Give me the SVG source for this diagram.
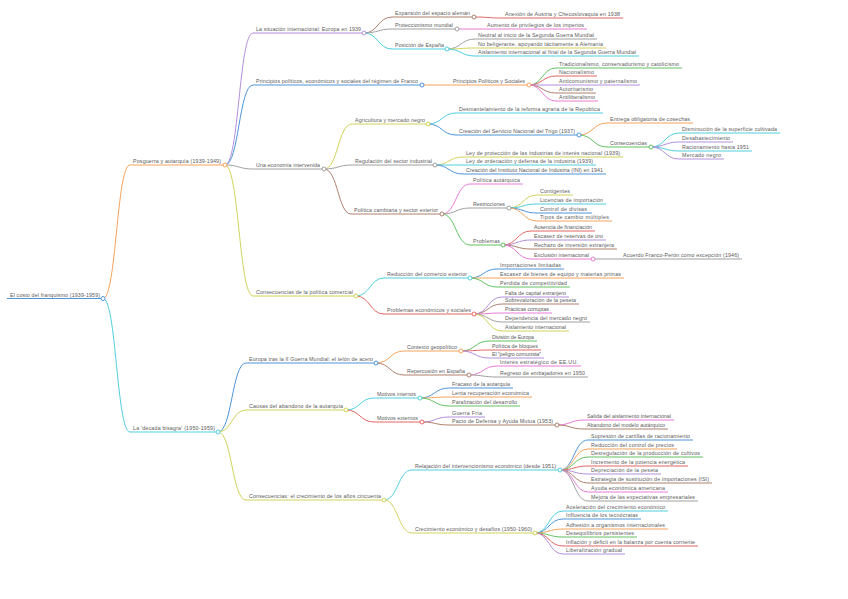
<svg xmlns="http://www.w3.org/2000/svg" width="848" height="599" viewBox="0 0 848 599">
<style>
path{fill:none;stroke-width:1}
circle{fill:#fff;stroke-width:1}
text{font-family:"Liberation Sans",Arial,sans-serif;font-size:5.3px;fill:#5a5a5a}
.bl{stroke:#4e95d9}.or{stroke:#f7a35c}.pu{stroke:#b38fdc}.cy{stroke:#4fcfe0}.gr{stroke:#a0a0a0}
.ye{stroke:#d2d25a}.br{stroke:#b0806e}.re{stroke:#e66565}.pk{stroke:#e87bd8}.gn{stroke:#62c262}
</style>
<rect width="848" height="599" fill="#fff"/>
<g id="connectors">
<path class="or" d="M103 298.5C116.5 298.5 116.5 165 130 165"/>
<path class="cy" d="M103 298.5C116.5 298.5 116.5 432 130 432"/>
<path class="pu" d="M225 165C239 165 239 33 253 33"/>
<path class="bl" d="M225 165C239 165 239 85 253 85"/>
<path class="gr" d="M225 165C239 165 239 169 253 169"/>
<path class="ye" d="M225 165C239 165 239 296 253 296"/>
<path class="br" d="M364 33C378 33 378 17 392 17"/>
<path class="gr" d="M364 33C378 33 378 29 392 29"/>
<path class="cy" d="M364 33C378 33 378 49 392 49"/>
<path class="re" d="M474 17C488 17 488 18 502 18"/>
<path class="pk" d="M457 29H484"/>
<path class="gr" d="M447 49C461 49 461 39 475 39"/>
<path class="ye" d="M447 49C461 49 461 48 475 48"/>
<path class="cy" d="M447 49C461 49 461 56 475 56"/>
<path class="or" d="M422 85H450"/>
<path class="gn" d="M529 85C542.5 85 542.5 68 556 68"/>
<path class="re" d="M529 85C542.5 85 542.5 76 556 76"/>
<path class="pu" d="M529 85H556"/>
<path class="br" d="M529 85C542.5 85 542.5 93 556 93"/>
<path class="pk" d="M529 85C542.5 85 542.5 101 556 101"/>
<path class="ye" d="M324 169C338 169 338 124 352 124"/>
<path class="gr" d="M324 169C338 169 338 165 352 165"/>
<path class="br" d="M324 169C338 169 338 214 351 214"/>
<path class="cy" d="M428 124C442 124 442 113 456 113"/>
<path class="bl" d="M428 124C442 124 442 135 456 135"/>
<path class="or" d="M579 135C593 135 593 123 607 123"/>
<path class="gn" d="M579 135C593 135 593 147 607 147"/>
<path class="cy" d="M651 147C665 147 665 133 679 133"/>
<path class="pu" d="M651 147C665 147 665 142 679 142"/>
<path class="cy" d="M651 147C665 147 665 151 679 151"/>
<path class="pu" d="M651 147C665 147 665 159 679 159"/>
<path class="ye" d="M435 165C449 165 449 157 463 157"/>
<path class="cy" d="M435 165H463"/>
<path class="bl" d="M435 165C449 165 449 174 463 174"/>
<path class="pk" d="M442 214C456 214 456 184 470 184"/>
<path class="gr" d="M442 214C456 214 456 208 470 208"/>
<path class="gn" d="M442 214C456 214 456 245 470 245"/>
<path class="ye" d="M509 208C523 208 523 195 537 195"/>
<path class="cy" d="M509 208C523 208 523 204 537 204"/>
<path class="bl" d="M509 208C523 208 523 213 537 213"/>
<path class="or" d="M509 208C523 208 523 221 537 221"/>
<path class="re" d="M503 245C517 245 517 231 531 231"/>
<path class="pu" d="M503 245C517 245 517 240 531 240"/>
<path class="br" d="M503 245C517 245 517 249 531 249"/>
<path class="pk" d="M503 245C517 245 517 259 531 259"/>
<path class="gr" d="M593 259H620"/>
<path class="cy" d="M356 296C370 296 370 278 384 278"/>
<path class="re" d="M356 296C370 296 370 314 384 314"/>
<path class="bl" d="M470 278C483.5 278 483.5 269 497 269"/>
<path class="or" d="M470 278H497"/>
<path class="gn" d="M470 278C483.5 278 483.5 287 497 287"/>
<path class="pu" d="M474 314C488 314 488 297 502 297"/>
<path class="br" d="M474 314C488 314 488 304 502 304"/>
<path class="pk" d="M474 314C488 314 488 313 502 313"/>
<path class="gr" d="M474 314C488 314 488 322 502 322"/>
<path class="ye" d="M474 314C488 314 488 331 502 331"/>
<path class="bl" d="M218 432C232 432 232 363 246 363"/>
<path class="ye" d="M218 432C232 432 232 410 246 410"/>
<path class="ye" d="M218 432C232 432 232 500 246 500"/>
<path class="or" d="M376 363C390 363 390 351 404 351"/>
<path class="br" d="M376 363C390 363 390 375 404 375"/>
<path class="gn" d="M461 351C475 351 475 341 489 341"/>
<path class="re" d="M461 351C475 351 475 350 489 350"/>
<path class="pu" d="M461 351C475 351 475 358 489 358"/>
<path class="pk" d="M469 375C483 375 483 366 497 366"/>
<path class="gr" d="M469 375C483 375 483 377 497 377"/>
<path class="cy" d="M346 410C360 410 360 398 374 398"/>
<path class="re" d="M346 410C360 410 360 422 374 422"/>
<path class="bl" d="M420 398C434.5 398 434.5 388 449 388"/>
<path class="or" d="M420 398C434.5 398 434.5 397 449 397"/>
<path class="gn" d="M420 398C434.5 398 434.5 406 449 406"/>
<path class="pu" d="M422 422C435.5 422 435.5 417 449 417"/>
<path class="br" d="M422 422C435.5 422 435.5 425 449 425"/>
<path class="pk" d="M557 425C570.5 425 570.5 420 584 420"/>
<path class="br" d="M557 425C570.5 425 570.5 429 584 429"/>
<path class="cy" d="M384 500C398 500 398 470 412 470"/>
<path class="ye" d="M384 500C398 500 398 533 412 533"/>
<path class="bl" d="M560 470C574 470 574 440 588 440"/>
<path class="or" d="M560 470C574 470 574 449 588 449"/>
<path class="gn" d="M560 470C574 470 574 457 588 457"/>
<path class="re" d="M560 470C574 470 574 466 588 466"/>
<path class="pu" d="M560 470C574 470 574 474 588 474"/>
<path class="br" d="M560 470C574 470 574 483 588 483"/>
<path class="pk" d="M560 470C574 470 574 492 588 492"/>
<path class="gr" d="M560 470C574 470 574 501 588 501"/>
<path class="cy" d="M535 533C549 533 549 511 563 511"/>
<path class="bl" d="M535 533C549 533 549 519 563 519"/>
<path class="or" d="M535 533C549 533 549 529 563 529"/>
<path class="gn" d="M535 533C549 533 549 537 563 537"/>
<path class="re" d="M535 533C549 533 549 546 563 546"/>
<path class="pu" d="M535 533C549 533 549 554 563 554"/>
</g>
<g id="root"><path class="bl" d="M7 298.5H103"/><text x="10" y="296.9" textLength="90">El costo del franquismo (1939-1959)</text><circle class="bl" cx="103" cy="298.5" r="2"/></g>
<g id="n-posguerra"><path class="or" d="M130 165H225"/><text x="133" y="163.4" textLength="88">Posguerra y autarquía (1939-1949)</text><circle class="or" cx="225" cy="165" r="2"/></g>
<g id="n-decada"><path class="cy" d="M130 432H218"/><text x="133" y="430.4" textLength="82">La 'década bisagra' (1950-1959)</text><circle class="cy" cx="218" cy="432" r="2"/></g>
<g id="n-situacion"><path class="pu" d="M253 33H364"/><text x="256" y="31.4" textLength="105">La situación internacional: Europa en 1939</text><circle class="pu" cx="364" cy="33" r="2"/></g>
<g id="n-principios"><path class="bl" d="M253 85H422"/><text x="256" y="83.4" textLength="162">Principios políticos, económicos y sociales del régimen de Franco</text><circle class="bl" cx="422" cy="85" r="2"/></g>
<g id="n-economia"><path class="gr" d="M253 169H324"/><text x="256" y="167.4" textLength="64">Una economía intervenida</text><circle class="gr" cx="324" cy="169" r="2"/></g>
<g id="n-consec-comercial"><path class="ye" d="M253 296H356"/><text x="256" y="294.4" textLength="97">Consecuencias de la política comercial</text><circle class="ye" cx="356" cy="296" r="2"/></g>
<g id="n-expansion"><path class="br" d="M392 17H474"/><text x="395" y="15.4" textLength="75">Expansión del espacio alemán</text><circle class="br" cx="474" cy="17" r="2"/></g>
<g id="n-anexion"><path class="re" d="M502 18H623"/><text x="505" y="16.4" textLength="115">Anexión de Austria y Checoslovaquia en 1938</text></g>
<g id="n-proteccionismo"><path class="gr" d="M392 29H457"/><text x="395" y="27.4" textLength="58">Proteccionismo mundial</text><circle class="gr" cx="457" cy="29" r="2"/></g>
<g id="n-aumento"><path class="pk" d="M484 29H587"/><text x="487" y="27.4" textLength="97">Aumento de privilegios de los imperios</text></g>
<g id="n-posicion"><path class="cy" d="M392 49H447"/><text x="395" y="47.4" textLength="49">Posición de España</text><circle class="cy" cx="447" cy="49" r="2"/></g>
<g id="n-neutral"><path class="gr" d="M475 39H597"/><text x="478" y="37.4" textLength="116">Neutral al inicio de la Segunda Guerra Mundial</text></g>
<g id="n-nobelig"><path class="ye" d="M475 48H606"/><text x="478" y="46.4" textLength="125">No beligerante, apoyando tácitamente a Alemania</text></g>
<g id="n-aislam1"><path class="cy" d="M475 56H639"/><text x="478" y="54.4" textLength="158">Aislamiento internacional al final de la Segunda Guerra Mundial</text></g>
<g id="n-princ-pol"><path class="or" d="M450 85H529"/><text x="453" y="83.4" textLength="72">Principios Políticos y Sociales</text><circle class="or" cx="529" cy="85" r="2"/></g>
<g id="n-tradic"><path class="gn" d="M556 68H682"/><text x="559" y="66.4" textLength="120">Tradicionalismo, conservadurismo y catolicismo</text></g>
<g id="n-nacional"><path class="re" d="M556 76H597"/><text x="559" y="74.4" textLength="35">Nacionalismo</text></g>
<g id="n-anticom"><path class="pu" d="M556 85H640"/><text x="559" y="83.4" textLength="78">Anticomunismo y paternalismo</text></g>
<g id="n-autorit"><path class="br" d="M556 93H596"/><text x="559" y="91.4" textLength="34">Autoritarismo</text></g>
<g id="n-antilib"><path class="pk" d="M556 101H598"/><text x="559" y="99.4" textLength="36">Antiliberalismo</text></g>
<g id="n-agricultura"><path class="ye" d="M352 124H428"/><text x="355" y="122.4" textLength="70">Agricultura y mercado negro</text><circle class="ye" cx="428" cy="124" r="2"/></g>
<g id="n-desmant"><path class="cy" d="M456 113H603"/><text x="459" y="111.4" textLength="141">Desmantelamiento de la reforma agraria de la República</text></g>
<g id="n-snt"><path class="bl" d="M456 135H579"/><text x="459" y="133.4" textLength="116">Creación del Servicio Nacional del Trigo (1937)</text><circle class="bl" cx="579" cy="135" r="2"/></g>
<g id="n-entrega"><path class="or" d="M607 123H693"/><text x="610" y="121.4" textLength="80">Entrega obligatoria de cosechas</text></g>
<g id="n-consec-snt"><path class="gn" d="M607 147H651"/><text x="610" y="145.4" textLength="37">Consecuencias</text><circle class="gn" cx="651" cy="147" r="2"/></g>
<g id="n-disminucion"><path class="cy" d="M679 133H780"/><text x="682" y="131.4" textLength="95">Disminución de la superficie cultivada</text></g>
<g id="n-desabast"><path class="pu" d="M679 142H733"/><text x="682" y="140.4" textLength="48">Desabastecimiento</text></g>
<g id="n-racion"><path class="cy" d="M679 151H752"/><text x="682" y="149.4" textLength="67">Racionamiento hasta 1951</text></g>
<g id="n-mercado"><path class="pu" d="M679 159H724"/><text x="682" y="157.4" textLength="39">Mercado negro</text></g>
<g id="n-regulacion"><path class="gr" d="M352 165H435"/><text x="355" y="163.4" textLength="77">Regulación del sector industrial</text><circle class="gr" cx="435" cy="165" r="2"/></g>
<g id="n-ley1"><path class="ye" d="M463 157H623"/><text x="466" y="155.4" textLength="154">Ley de protección de las industrias de interés nacional (1939)</text></g>
<g id="n-ley2"><path class="cy" d="M463 165H596"/><text x="466" y="163.4" textLength="127">Ley de ordenación y defensa de la industria (1939)</text></g>
<g id="n-ini"><path class="bl" d="M463 174H606"/><text x="466" y="172.4" textLength="137">Creación del Instituto Nacional de Industria (INI) en 1941</text></g>
<g id="n-cambiaria"><path class="br" d="M351 214H442"/><text x="354" y="212.4" textLength="84">Política cambiaria y sector exterior</text><circle class="br" cx="442" cy="214" r="2"/></g>
<g id="n-autarquica"><path class="pk" d="M470 184H523"/><text x="473" y="182.4" textLength="47">Política autárquica</text></g>
<g id="n-restric"><path class="gr" d="M470 208H509"/><text x="473" y="206.4" textLength="32">Restricciones</text><circle class="gr" cx="509" cy="208" r="2"/></g>
<g id="n-conting"><path class="ye" d="M537 195H573"/><text x="540" y="193.4" textLength="30">Contigentes</text></g>
<g id="n-licencias"><path class="cy" d="M537 204H606"/><text x="540" y="202.4" textLength="63">Licencias de importación</text></g>
<g id="n-control"><path class="bl" d="M537 213H592"/><text x="540" y="211.4" textLength="47">Control de divisas</text></g>
<g id="n-tipos"><path class="or" d="M537 221H612"/><text x="540" y="219.4" textLength="69">Tipos de cambio múltiples</text></g>
<g id="n-problemas"><path class="gn" d="M470 245H503"/><text x="473" y="243.4" textLength="27">Problemas</text><circle class="gn" cx="503" cy="245" r="2"/></g>
<g id="n-ausencia"><path class="re" d="M531 231H595"/><text x="534" y="229.4" textLength="58">Ausencia de financiación</text></g>
<g id="n-escasez-oro"><path class="pu" d="M531 240H606"/><text x="534" y="238.4" textLength="69">Escasez de reservas de oro</text></g>
<g id="n-rechazo"><path class="br" d="M531 249H617"/><text x="534" y="247.4" textLength="80">Rechazo de inversión extranjera</text></g>
<g id="n-exclusion"><path class="pk" d="M531 259H593"/><text x="534" y="257.4" textLength="55">Exclusión internacional</text><circle class="pk" cx="593" cy="259" r="2"/></g>
<g id="n-acuerdo"><path class="gr" d="M620 259H742"/><text x="623" y="257.4" textLength="116">Acuerdo Franco-Perón como excepción (1946)</text></g>
<g id="n-reduccion"><path class="cy" d="M384 278H470"/><text x="387" y="276.4" textLength="80">Reducción del comercio exterior</text><circle class="cy" cx="470" cy="278" r="2"/></g>
<g id="n-importaciones"><path class="bl" d="M497 269H564"/><text x="500" y="267.4" textLength="61">Importaciones limitadas</text></g>
<g id="n-escasez-bienes"><path class="or" d="M497 278H624"/><text x="500" y="276.4" textLength="121">Escasez de bienes de equipo y materias primas</text></g>
<g id="n-perdida"><path class="gn" d="M497 287H570"/><text x="500" y="285.4" textLength="67">Pérdida de competitividad</text></g>
<g id="n-prob-eco"><path class="re" d="M384 314H474"/><text x="387" y="312.4" textLength="84">Problemas económicos y sociales</text><circle class="re" cx="474" cy="314" r="2"/></g>
<g id="n-falta"><path class="pu" d="M502 297H569"/><text x="505" y="295.4" textLength="61">Falta de capital extranjero</text></g>
<g id="n-sobreval"><path class="br" d="M502 304H579"/><text x="505" y="302.4" textLength="71">Sobrevaloración de la peseta</text></g>
<g id="n-practicas"><path class="pk" d="M502 313H552"/><text x="505" y="311.4" textLength="44">Prácticas corruptas</text></g>
<g id="n-dependencia"><path class="gr" d="M502 322H590"/><text x="505" y="320.4" textLength="82">Dependencia del mercado negro</text></g>
<g id="n-aislam2"><path class="ye" d="M502 331H569"/><text x="505" y="329.4" textLength="61">Aislamiento internacional</text></g>
<g id="n-europa"><path class="bl" d="M246 363H376"/><text x="249" y="361.4" textLength="124">Europa tras la II Guerra Mundial: el telón de acero</text><circle class="bl" cx="376" cy="363" r="2"/></g>
<g id="n-contexto"><path class="or" d="M404 351H461"/><text x="407" y="349.4" textLength="50">Contexto geopolítico</text><circle class="or" cx="461" cy="351" r="2"/></g>
<g id="n-division"><path class="gn" d="M489 341H537"/><text x="492" y="339.4" textLength="42">División de Europa</text></g>
<g id="n-bloques"><path class="re" d="M489 350H541"/><text x="492" y="348.4" textLength="46">Política de bloques</text></g>
<g id="n-peligro"><path class="pu" d="M489 358H544"/><text x="492" y="356.4" textLength="49">El "peligro comunista"</text></g>
<g id="n-repercusion"><path class="br" d="M404 375H469"/><text x="407" y="373.4" textLength="58">Repercusión en España</text><circle class="br" cx="469" cy="375" r="2"/></g>
<g id="n-interes"><path class="pk" d="M497 366H581"/><text x="500" y="364.4" textLength="78">Interés estratégico de EE.UU.</text></g>
<g id="n-regreso"><path class="gr" d="M497 377H588"/><text x="500" y="375.4" textLength="85">Regreso de embajadores en 1950</text></g>
<g id="n-causas"><path class="ye" d="M246 410H346"/><text x="249" y="408.4" textLength="94">Causas del abandono de la autarquía</text><circle class="ye" cx="346" cy="410" r="2"/></g>
<g id="n-internos"><path class="cy" d="M374 398H420"/><text x="377" y="396.4" textLength="39">Motivos internos</text><circle class="cy" cx="420" cy="398" r="2"/></g>
<g id="n-fracaso"><path class="bl" d="M449 388H513"/><text x="452" y="386.4" textLength="58">Fracaso de la autarquía</text></g>
<g id="n-lenta"><path class="or" d="M449 397H532"/><text x="452" y="395.4" textLength="77">Lenta recuperación económica</text></g>
<g id="n-paraliz"><path class="gn" d="M449 406H520"/><text x="452" y="404.4" textLength="65">Paralización del desarrollo</text></g>
<g id="n-externos"><path class="re" d="M374 422H422"/><text x="377" y="420.4" textLength="41">Motivos externos</text><circle class="re" cx="422" cy="422" r="2"/></g>
<g id="n-guerra"><path class="pu" d="M449 417H485"/><text x="452" y="415.4" textLength="30">Guerra Fría</text></g>
<g id="n-pacto"><path class="br" d="M449 425H557"/><text x="452" y="423.4" textLength="101">Pacto de Defensa y Ayuda Mutua (1953)</text><circle class="br" cx="557" cy="425" r="2"/></g>
<g id="n-salida"><path class="pk" d="M584 420H674"/><text x="587" y="418.4" textLength="84">Salida del aislamiento internacional</text></g>
<g id="n-abandono"><path class="br" d="M584 429H668"/><text x="587" y="427.4" textLength="78">Abandono del modelo autárquico</text></g>
<g id="n-consec-50"><path class="ye" d="M246 500H384"/><text x="249" y="498.4" textLength="132">Consecuencias: el crecimiento de los años cincuenta</text><circle class="ye" cx="384" cy="500" r="2"/></g>
<g id="n-relajacion"><path class="cy" d="M412 470H560"/><text x="415" y="468.4" textLength="141">Relajación del intervencionismo económico (desde 1951)</text><circle class="cy" cx="560" cy="470" r="2"/></g>
<g id="n-supresion"><path class="bl" d="M588 440H693"/><text x="591" y="438.4" textLength="99">Supresión de cartillas de racionamiento</text></g>
<g id="n-reduc-precios"><path class="or" d="M588 449H677"/><text x="591" y="447.4" textLength="83">Reducción del control de precios</text></g>
<g id="n-desreg"><path class="gn" d="M588 457H703"/><text x="591" y="455.4" textLength="109">Desregulación de la producción de cultivos</text></g>
<g id="n-incremento"><path class="re" d="M588 466H688"/><text x="591" y="464.4" textLength="94">Incremento de la potencia energética</text></g>
<g id="n-deprec"><path class="pu" d="M588 474H661"/><text x="591" y="472.4" textLength="67">Depreciación de la peseta</text></g>
<g id="n-isi"><path class="br" d="M588 483H712"/><text x="591" y="481.4" textLength="118">Estrategia de sustitución de importaciones (ISI)</text></g>
<g id="n-ayuda"><path class="pk" d="M588 492H668"/><text x="591" y="490.4" textLength="74">Ayuda económica americana</text></g>
<g id="n-mejora"><path class="gr" d="M588 501H698"/><text x="591" y="499.4" textLength="104">Mejora de las expectativas empresariales</text></g>
<g id="n-crecimiento"><path class="ye" d="M412 533H535"/><text x="415" y="531.4" textLength="117">Crecimiento económico y desafíos (1950-1960)</text><circle class="ye" cx="535" cy="533" r="2"/></g>
<g id="n-aceleracion"><path class="cy" d="M563 511H668"/><text x="566" y="509.4" textLength="99">Aceleración del crecimiento económico</text></g>
<g id="n-tecnocratas"><path class="bl" d="M563 519H641"/><text x="566" y="517.4" textLength="72">Influencia de los tecnócratas</text></g>
<g id="n-adhesion"><path class="or" d="M563 529H668"/><text x="566" y="527.4" textLength="99">Adhesión a organismos internacionales</text></g>
<g id="n-deseq"><path class="gn" d="M563 537H637"/><text x="566" y="535.4" textLength="68">Desequilibrios persistentes</text></g>
<g id="n-inflacion"><path class="re" d="M563 546H698"/><text x="566" y="544.4" textLength="129">Inflación y déficit en la balanza por cuenta corriente</text></g>
<g id="n-liberal"><path class="pu" d="M563 554H625"/><text x="566" y="552.4" textLength="56">Liberalización gradual</text></g>
</svg>
